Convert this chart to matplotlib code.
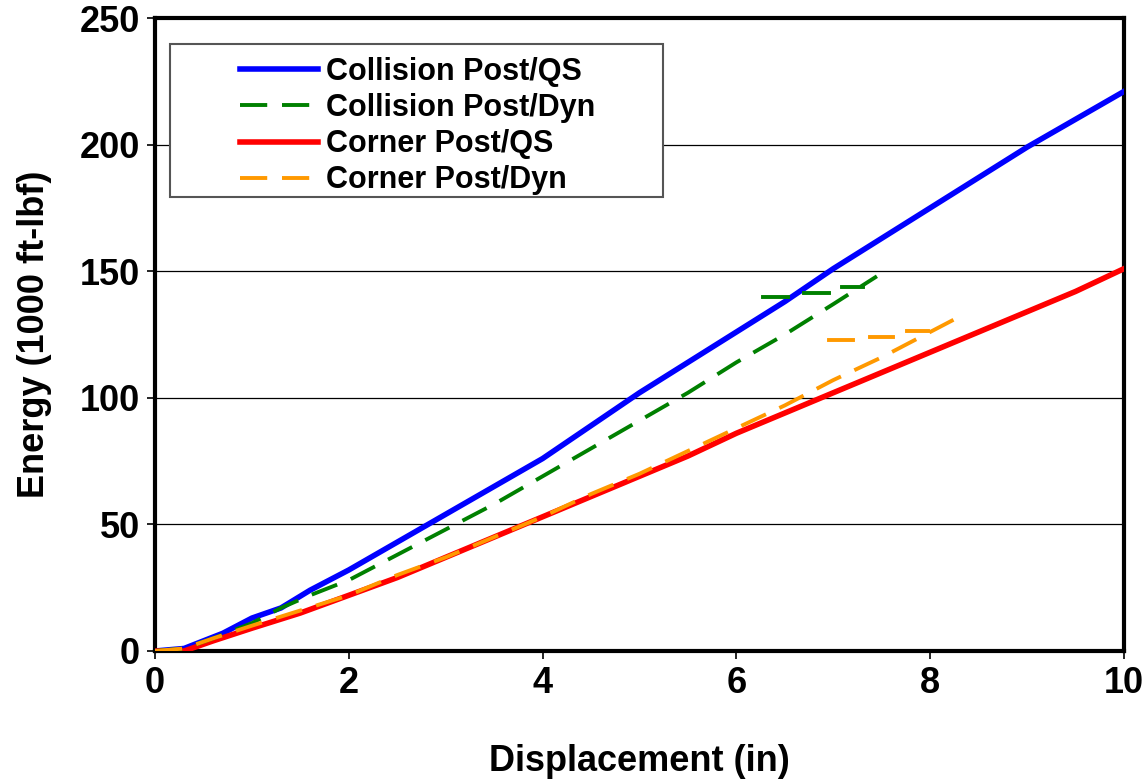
import numpy as np
import matplotlib
matplotlib.use("Agg")
from matplotlib import pyplot as plt
from matplotlib.patches import Rectangle

plt.rcParams['font.family'] = ['Liberation Sans', 'DejaVu Sans']
plt.rcParams['font.weight'] = 'bold'

# Collision Post / quasi-static
coll_qs_x = [0, 0.3, 0.5, 0.7, 1.0, 1.3, 1.6, 2.0, 2.5, 3.0, 3.5, 4.0, 4.5, 5.0, 5.5, 6.0, 6.5, 7.0, 7.5, 8.0, 8.5, 9.0, 9.5, 10.0]
coll_qs_y = [0, 1, 4, 7, 13, 17, 24, 32, 43, 54, 65, 76, 89, 102, 114, 126, 138, 151, 163, 175, 187, 199, 210, 221]

# Collision Post / dynamic
coll_dyn_x = [0, 0.3, 0.6, 1.0, 1.3, 1.6, 2.0, 2.5, 3.0, 3.5, 4.0, 4.5, 5.0, 5.5, 6.0, 6.5, 7.0, 7.45]
coll_dyn_y = [0, 1, 5, 11, 17, 22, 28, 38, 48, 58, 69, 80, 91, 102, 114, 125, 137, 148]
coll_jump_x = [[6.27, 6.53], [6.70, 6.96], [7.09, 7.31]]
coll_jump_y = [[139.8, 139.8], [141.2, 141.2], [143.6, 143.6]]

# Corner Post / quasi-static
corn_qs_x = [0, 0.3, 0.6, 1.0, 1.5, 2.0, 2.5, 3.0, 3.5, 4.0, 4.5, 5.0, 5.5, 6.0, 6.5, 7.0, 7.5, 8.0, 8.5, 9.0, 9.5, 10.0]
corn_qs_y = [0, 0, 4, 9, 15, 22, 29, 37, 45, 53, 61, 69, 77, 86, 94, 102, 110, 118, 126, 134, 142, 151]

# Corner Post / dynamic
corn_dyn_x = [0, 0.3, 0.6, 1.0, 1.5, 2.0, 2.5, 3.0, 3.5, 4.0, 4.5, 5.0, 5.5, 6.0, 6.5, 7.0, 7.5, 8.0, 8.3]
corn_dyn_y = [0, 1, 5, 10, 16, 22, 30, 37, 45, 53, 62, 70, 79, 88, 97, 107, 116, 126, 132]
corn_jump_x = [[6.96, 7.20], [7.38, 7.62], [7.76, 7.98]]
corn_jump_y = [[122.8, 122.8], [124.0, 124.0], [126.4, 126.4]]

W, H = 1148, 780
fig = plt.figure(figsize=(11.48, 7.8), dpi=100)
ax = fig.add_axes([155 / W, 1 - 651 / H, (1124 - 155) / W, (651 - 18) / H])

dash = (7, 3.8)
ax.plot(coll_qs_x, coll_qs_y, color='#0000ff', lw=4, label='Collision Post/QS', zorder=3)
ax.plot(coll_dyn_x, coll_dyn_y, color='#008000', lw=2.8, dashes=dash, label='Collision Post/Dyn', zorder=4)
for xs, ys in zip(coll_jump_x, coll_jump_y):
    ax.plot(xs, ys, color='#008000', lw=2.8, zorder=4)
ax.plot(corn_qs_x, corn_qs_y, color='#ff0000', lw=4, label='Corner Post/QS', zorder=3)
ax.plot(corn_dyn_x, corn_dyn_y, color='#ff9900', lw=2.8, dashes=dash, label='Corner Post/Dyn', zorder=4)
for xs, ys in zip(corn_jump_x, corn_jump_y):
    ax.plot(xs, ys, color='#ff9900', lw=2.8, zorder=4)

ax.set_xlim(0, 10)
ax.set_ylim(0, 250)
ax.set_xticks([0, 2, 4, 6, 8, 10])
ax.set_yticks([0, 50, 100, 150, 200, 250])
ax.yaxis.grid(True, color='black', lw=0.9)
ax.set_axisbelow(True)
for s in ax.spines.values():
    s.set_linewidth(3)
ax.tick_params(direction='out', length=6, width=1.2, labelsize=26, pad=5)
for lab in ax.get_xticklabels() + ax.get_yticklabels():
    lab.set_fontweight('bold')

ax.set_xlabel('Displacement (in)', fontsize=26, fontweight='bold', labelpad=31)
ax.set_ylabel('Energy (1000 ft-lbf)', fontsize=26, fontweight='bold', labelpad=20)

# legend frame drawn separately (Excel-style wide left margin)
ax.add_patch(Rectangle((170 / W, 1 - 197 / H), (663 - 170) / W, (197 - 44) / H,
                       transform=fig.transFigure, facecolor='white',
                       edgecolor='#555555', lw=1.5, zorder=5, clip_on=False))
leg = ax.legend(loc='upper left', bbox_to_anchor=(240 / W, 1 - 57 / H),
                bbox_transform=fig.transFigure, fontsize=22, frameon=False,
                handlelength=2.55, handletextpad=0.25, borderpad=0,
                labelspacing=0.2, borderaxespad=0)
leg.set_zorder(6)
for t in leg.get_texts():
    t.set_fontweight('bold')

fig.savefig('out.png', dpi=100)
